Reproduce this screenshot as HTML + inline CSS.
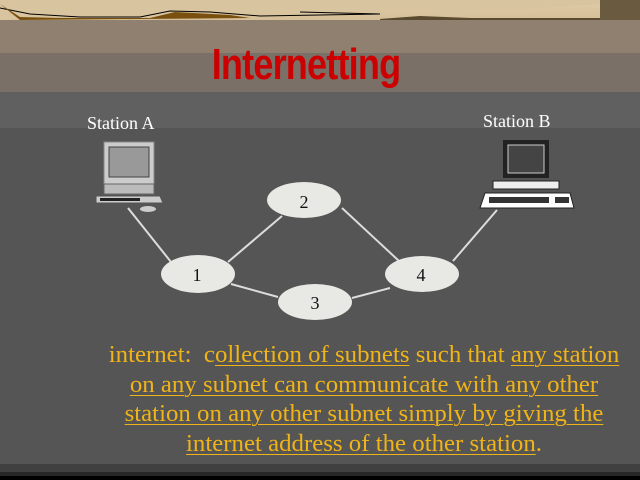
<!DOCTYPE html>
<html><head><style>
body{margin:0;width:640px;height:480px;overflow:hidden;background:#555;position:relative;font-family:"Liberation Serif",serif}
.a{position:absolute;left:0;width:640px}
.t{position:absolute;left:64px;width:600px;text-align:center;color:#f0b418;font-size:24px;line-height:29.5px;white-space:nowrap}
.t div{transform:scaleX(1.035)}
u{text-decoration-thickness:1px;text-underline-offset:3px}
</style></head><body>
<div class="a" style="top:0;height:20px;background:linear-gradient(#e0cca8,#d4bf98)"></div>
<svg class="a" style="top:0" width="640" height="24"><path d="M0,0 L0,20 L40,18 L80,16 L130,19 L170,16 L200,10 L240,14 L300,15 L350,13 L400,11 L450,16 L500,13 L540,8 L600,4 L640,0 Z" fill="#d8c49e"/><path d="M0,8 L30,14 L80,17 L140,17 L170,11 L210,12 L260,16 L380,14 L300,12" stroke="#000" stroke-width="1" fill="none"/><path d="M0,4 L20,17 L60,18 L150,18 L175,12 L230,15 L250,18 L20,20 Z" fill="#7a5010"/><path d="M380,19 L420,16 L470,18 L640,18 L640,21 L380,21Z" fill="#5a4a30"/><path d="M600,0 L640,0 L640,20 L600,20Z" fill="#6a5a40"/></svg>
<div class="a" style="top:20px;height:33px;background:#8f8070"></div>
<div class="a" style="top:53px;height:39px;background:#7a7068"></div>
<div class="a" style="top:92px;height:36px;background:#606060"></div>
<div class="a" style="top:464px;height:8px;background:#404040"></div>
<div class="a" style="top:472px;height:4px;background:#262626"></div>
<div class="a" style="top:476px;height:4px;background:#000"></div>
<div style="position:absolute;left:156px;top:40px;width:300px;text-align:center;color:#cc0000;font:bold 44px 'Liberation Sans Narrow','Liberation Sans',sans-serif;transform:scaleX(0.82);letter-spacing:-1px">Internetting</div>
<div style="position:absolute;left:87px;top:113px;color:#fff;font-size:18px">Station A</div>
<div style="position:absolute;left:483px;top:111px;color:#fff;font-size:18px">Station B</div>
<svg class="a" style="top:0" width="640" height="480">
<g stroke="#ddd" stroke-width="2">
<line x1="128" y1="208" x2="171" y2="262"/><line x1="228" y1="262" x2="282" y2="216"/><line x1="342" y1="208" x2="399" y2="261"/><line x1="231" y1="284" x2="278" y2="297"/><line x1="352" y1="298" x2="390" y2="288"/><line x1="453" y1="261" x2="497" y2="210"/>
</g>
<g fill="#e8e8e4">
<ellipse cx="198" cy="274" rx="37" ry="19"/><ellipse cx="304" cy="200" rx="37" ry="18"/><ellipse cx="315" cy="302" rx="37" ry="18"/><ellipse cx="422" cy="274" rx="37" ry="18"/>
</g>
<g font-family="Liberation Serif" font-size="18" fill="#111" text-anchor="middle">
<text x="197" y="281">1</text><text x="304" y="208">2</text><text x="315" y="309">3</text><text x="421" y="281">4</text></g>
<rect x="104" y="142" width="50" height="42" fill="#ccc" stroke="#888"/>
<rect x="109" y="147" width="40" height="30" fill="#999" stroke="#444"/>
<rect x="104" y="184" width="50" height="10" fill="#bbb" stroke="#666"/>
<path d="M96,196 L160,196 L163,203 L96,203Z" fill="#ccc" stroke="#555"/>
<rect x="100" y="198" width="40" height="3" fill="#222"/>
<ellipse cx="148" cy="209" rx="8" ry="3" fill="#ccc"/>
<rect x="503" y="140" width="46" height="38" fill="#222"/>
<rect x="508" y="145" width="36" height="28" fill="#444" stroke="#ccc"/>
<rect x="493" y="181" width="66" height="8" fill="#eee" stroke="#222"/>
<path d="M485,193 L570,193 L574,208 L480,208Z" fill="#fff" stroke="#222"/>
<rect x="489" y="197" width="60" height="6" fill="#333"/><rect x="555" y="197" width="14" height="6" fill="#333"/>
</svg>
<div class="t" style="top:341px">
<div>internet:&nbsp; c<u>ollection of subnets</u> such that <u>any station</u></div>
<div><u>on any subnet can communicate with any other</u></div>
<div><u>station on any other subnet simply by giving the</u></div>
<div><u>internet address of the other station</u>.</div>
</div>
</body></html>
